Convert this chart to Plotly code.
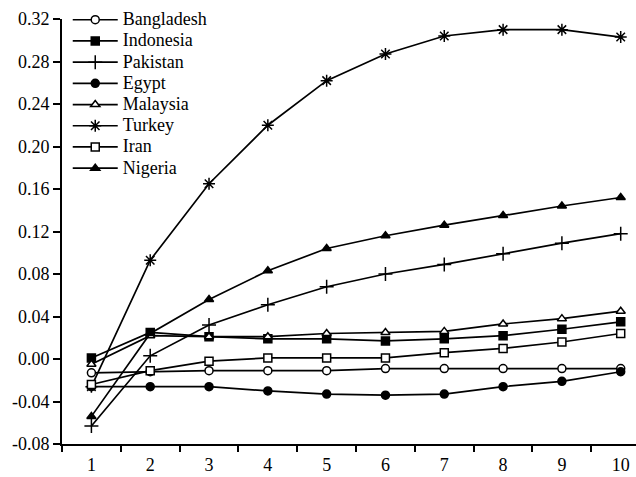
import plotly.graph_objects as go

periods = [1, 2, 3, 4, 5, 6, 7, 8, 9, 10]
bangladesh = [-0.013, -0.012, -0.011, -0.011, -0.011, -0.009, -0.009, -0.009, -0.009, -0.009]
indonesia = [0.001, 0.025, 0.021, 0.019, 0.019, 0.017, 0.019, 0.022, 0.028, 0.035]
pakistan = [-0.063, 0.003, 0.032, 0.051, 0.068, 0.080, 0.089, 0.099, 0.109, 0.118]
egypt = [-0.026, -0.026, -0.026, -0.030, -0.033, -0.034, -0.033, -0.026, -0.021, -0.012]
malaysia = [-0.005, 0.022, 0.021, 0.021, 0.024, 0.025, 0.026, 0.033, 0.038, 0.045]
turkey = [-0.026, 0.093, 0.165, 0.220, 0.262, 0.287, 0.304, 0.310, 0.310, 0.303]
iran = [-0.024, -0.011, -0.002, 0.001, 0.001, 0.001, 0.006, 0.010, 0.016, 0.024]
nigeria = [-0.054, 0.024, 0.056, 0.083, 0.104, 0.116, 0.126, 0.135, 0.144, 0.152]

ytick_vals = [-0.08, -0.04, 0.00, 0.04, 0.08, 0.12, 0.16, 0.20, 0.24, 0.28, 0.32]
ytick_text = ["-0.08", "-0.04", "0.00", "0.04", "0.08", "0.12", "0.16", "0.20", "0.24", "0.28", "0.32"]

series = [
    ("Bangladesh", bangladesh, "circle", "white", 8),
    ("Indonesia", indonesia, "square", "black", 8),
    ("Pakistan", pakistan, "cross-thin", "black", 10),
    ("Egypt", egypt, "circle", "black", 8),
    ("Malaysia", malaysia, "triangle-up", "white", 8),
    ("Turkey", turkey, "asterisk", "black", 10),
    ("Iran", iran, "square", "white", 8),
    ("Nigeria", nigeria, "triangle-up", "black", 8),
]

FONT = "Liberation Serif, Times New Roman, serif"

fig = go.Figure()
for name, vals, sym, fill, size in series:
    fig.add_trace(go.Scatter(
        x=periods, y=vals, mode="lines+markers",
        name='<span style="font-size:18px">%s</span>' % name,
        line=dict(color="black", width=1.7),
        marker=dict(symbol=sym, color=fill, size=size,
                    line=dict(color="black", width=1.5)),
    ))

# invisible trace for the between-category tick marks
fig.add_trace(go.Scatter(x=[0.5, 10.5], y=[None, None], xaxis="x2",
                         showlegend=False, hoverinfo="skip"))

fig.update_layout(
    width=636, height=477,
    margin=dict(l=62, r=0, t=19, b=33),
    paper_bgcolor="white", plot_bgcolor="white",
    font=dict(family=FONT, size=18, color="black"),
    showlegend=True,
    legend=dict(x=0.01, y=1.035, xanchor="left", yanchor="top",
                bgcolor="rgba(0,0,0,0)", borderwidth=0,
                font=dict(family=FONT, size=14),
                tracegroupgap=0, itemsizing="trace", itemwidth=45),
    xaxis=dict(range=[0.5, 10.26], tickvals=periods,
               ticktext=[str(p) for p in periods],
               showline=True, linecolor="black", linewidth=2,
               ticks="outside", ticklen=3, tickcolor="rgba(0,0,0,0)",
               showgrid=False, zeroline=False, automargin=False,
               tickfont=dict(family=FONT, size=18)),
    xaxis2=dict(range=[0.5, 10.26], overlaying="x", side="bottom",
                anchor="y", automargin=False,
                tickvals=[p - 0.5 for p in periods] + [10.5],
                showticklabels=False, ticks="outside", ticklen=7,
                tickwidth=2, tickcolor="black",
                showline=False, showgrid=False, zeroline=False),
    yaxis=dict(range=[-0.08, 0.32], tickvals=ytick_vals, ticktext=ytick_text,
               showline=True, linecolor="black", linewidth=2,
               ticks="outside", ticklen=7, tickwidth=2, tickcolor="black",
               showgrid=False, zeroline=False, automargin=False,
               tickfont=dict(family=FONT, size=18)),
)

fig.write_html("out.html")
